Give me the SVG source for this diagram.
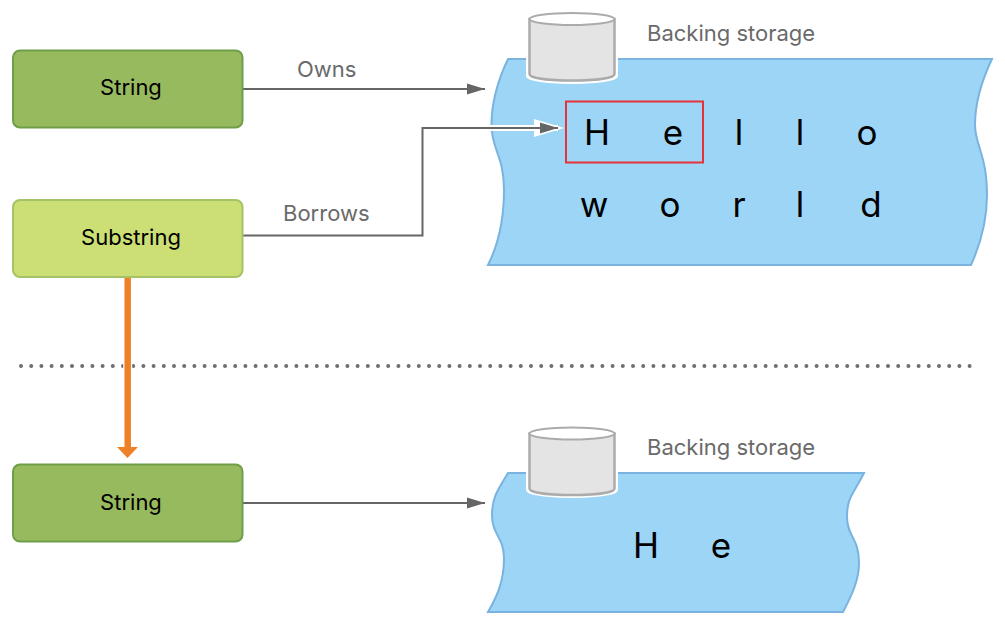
<svg xmlns="http://www.w3.org/2000/svg" width="1005" height="626" viewBox="0 0 1005 626">
<style>
text{font-family:"Inter","Liberation Sans",sans-serif}
.box{stroke-width:2}
.dark{fill:#98ba5f;stroke:#6f9e48}
.light{fill:#cbdf75;stroke:#a5c366}
.lbl{font-size:22px;fill:#000;text-anchor:middle}
.cap{font-size:22px;fill:#6a6a6a}
.ch{font-size:35px;fill:#000;text-anchor:middle}
.tape{fill:#9dd5f6;stroke:#7ab3e0;stroke-width:2}
.cyl{fill:#e4e4e4;stroke:#ababab;stroke-width:2.5}
.top{fill:#fff;stroke:#ababab;stroke-width:2}
.conn{fill:none;stroke:#666;stroke-width:2}
</style>
<defs>
<marker id="arrow" markerUnits="userSpaceOnUse" markerWidth="20" markerHeight="12" refX="18" refY="6" orient="auto"><path d="M0,0.5 L18,6 L0,11.5 Z" fill="#666"/></marker>
</defs>
<g id="tape-top">
<path class="tape" d="M508,59 L992,59 C981,82 975,104 975,125 C975,145 987,155 987,195 C987,220 980,245 971,265 L488,265 C498,245 504,220 504,190 C504,155 491.500,150 491.500,125 C491.500,104 498,80 508,59 Z"/>
</g>
<g id="tape-bottom">
<path class="tape" d="M508,473 L864,473 C853,495 847,497 847,517 C847,537 859,537 859,563 C859,580 852,595 843,612 L488,612 C498,595 504,580 504,558 C504,537 492,535 492,515 C492,497 498,490 508,473 Z"/>
</g>
<g id="divider"><path d="M21,366 H975" fill="none" stroke="#6e6e6e" stroke-width="4" stroke-linecap="round" stroke-dasharray="0 10.200"/></g>
<g id="connectors">
<path class="conn" d="M243,89 H485" marker-end="url(#arrow)"/>
<path d="M423,128 H558" fill="none" stroke="#fff" stroke-width="6"/>
<path d="M534,119 L564,128 L534,137 Z" fill="#fff"/>
<path class="conn" d="M243,235.500 H422.500 V128 H558" marker-end="url(#arrow)"/>
<path class="conn" d="M243,503 H485" marker-end="url(#arrow)"/>
<path d="M127.700,277 V447" stroke="#fff" stroke-width="9" fill="none"/>
<path d="M127.700,277 V447" stroke="#ee8128" stroke-width="6.500" fill="none"/>
<path d="M117,447 H138 L127.500,458 Z" fill="#ee8128"/>
</g>
<g id="string-top"><rect class="box dark" x="13" y="50.500" width="229.500" height="77" rx="7"/><text class="lbl" x="131" y="95">String</text></g>
<g id="substring"><rect class="box light" x="13" y="200" width="229.500" height="77" rx="7"/><text class="lbl" x="131" y="244.500">Substring</text></g>
<g id="string-bottom"><rect class="box dark" x="13" y="464.500" width="229.500" height="77" rx="7"/><text class="lbl" x="131" y="509.500">String</text></g>
<g id="cylinder-top">
<path d="M526,58 V76 Q526,83 572,84 Q618,83 618,76 V58 Z" fill="#fff"/>
<path class="cyl" d="M529.500,19 V74 C529.500,78 548,80.500 572,80.500 C596,80.500 614.500,78 614.500,74 V19 Z"/>
<ellipse class="top" cx="572" cy="19" rx="42.500" ry="6"/>
</g>
<g id="cylinder-bottom">
<path d="M526,472 V490 Q526,497 572,498 Q618,497 618,490 V472 Z" fill="#fff"/>
<path class="cyl" d="M529.500,433.500 V488.500 C529.500,492.500 548,495 572,495 C596,495 614.500,492.500 614.500,488.500 V433.500 Z"/>
<ellipse class="top" cx="572" cy="433.500" rx="42.500" ry="6"/>
</g>
<g id="labels">
<text class="cap" x="297" y="77">Owns</text>
<text class="cap" x="283" y="221">Borrows</text>
<text class="cap" x="647" y="41">Backing storage</text>
<text class="cap" x="647" y="455">Backing storage</text>
</g>
<g id="selection"><rect x="566" y="101.500" width="137" height="61" fill="none" stroke="#e8323a" stroke-width="2"/></g>
<g id="letters">
<text class="ch" x="597" y="145">H</text><text class="ch" x="673" y="145">e</text><text class="ch" x="739" y="145">l</text><text class="ch" x="800" y="145">l</text><text class="ch" x="867" y="145">o</text>
<text class="ch" x="594" y="217">w</text><text class="ch" x="670" y="217">o</text><text class="ch" x="739" y="217">r</text><text class="ch" x="800" y="217">l</text><text class="ch" x="871" y="217">d</text>
<text class="ch" x="646" y="558">H</text><text class="ch" x="721" y="558">e</text>
</g>
</svg>
